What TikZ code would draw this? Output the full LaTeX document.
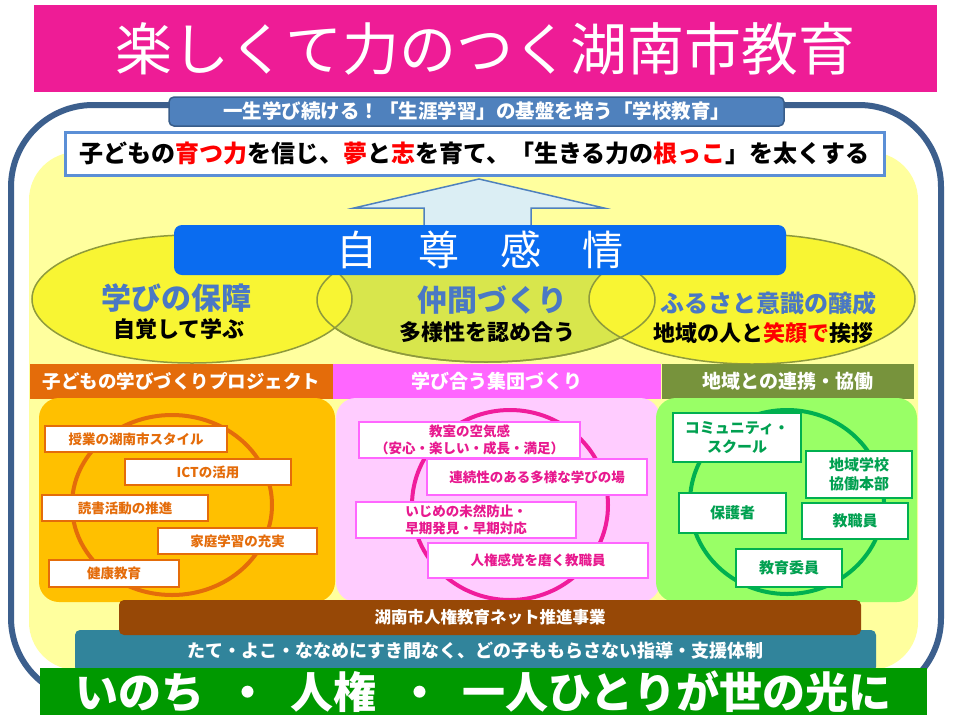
\documentclass[tikz,border=0pt]{standalone}
\usepackage{fontspec}
\setmainfont{Noto Sans CJK JP}
\usetikzlibrary{shapes.geometric, positioning}
\definecolor{titlepink}{HTML}{EE1C96}
\definecolor{framecol}{HTML}{3C5F8D}
\definecolor{bannerfill}{HTML}{4F81BD}
\definecolor{bannerline}{HTML}{385D8A}
\definecolor{stateline}{HTML}{5B8FD6}
\definecolor{paleyellow}{HTML}{FFFF9E}
\definecolor{arrowfill}{HTML}{DBEEF4}
\definecolor{selfblue}{HTML}{0A6CF0}
\definecolor{ovalyellow}{HTML}{F8F533}
\definecolor{ovalgreen}{HTML}{D8E64C}
\definecolor{ovalline}{HTML}{8E9A3C}
\definecolor{pillarblue}{HTML}{4A78C4}
\definecolor{orangehead}{HTML}{E46C0A}
\definecolor{orangepanel}{HTML}{FFC000}
\definecolor{pinkhead}{HTML}{FF66FF}
\definecolor{pinkpanel}{HTML}{FFCCFF}
\definecolor{pinkring}{HTML}{F01C9C}
\definecolor{pinktext}{HTML}{E8198F}
\definecolor{olivehead}{HTML}{77933C}
\definecolor{greenpanel}{HTML}{99FF66}
\definecolor{greenring}{HTML}{00B050}
\definecolor{greentext}{HTML}{00A050}
\definecolor{brownbar}{HTML}{974806}
\definecolor{tealbar}{HTML}{31849B}
\definecolor{bottomgreen}{HTML}{009900}
\newcommand{\fsz}[2]{\fontsize{#1}{#2}\selectfont}

\begin{document}
\begin{tikzpicture}[x=1pt, y=-1pt,
    bar/.style={rectangle, fill=#1, text=white, inner sep=0pt},
    header/.style={rectangle, fill=#1, text=white, inner sep=0pt,
                   minimum height=35, font=\bfseries\fsz{19}{19}},
    panel/.style={fill=#1, rounded corners=20},
    ring/.style={draw=#1, line width=4},
    item/.style={rectangle, draw=#1, fill=white, line width=1.6,
                 inner sep=0pt, align=center},
    orangeitem/.style={item=orangehead, text=orangehead, font=\bfseries\fsz{13.5}{17}},
    pinkitem/.style={item=pinkhead, text=pinktext, font=\bfseries\fsz{13.5}{17}},
    greenitem/.style={item=greenring, text=greentext, font=\bfseries\fsz{15}{19}},
    oval/.style={ellipse, fill=#1, draw=ovalline, line width=1.5, inner sep=0pt},
    pillar/.style={text=pillarblue, font=\bfseries\fsz{#1}{#1}},
    motto/.style={text=black, font=\bfseries\fsz{22}{22}}
]
\useasboundingbox (0,0) rectangle (961,721);
\fill[white] (0,0) rectangle (961,721);

% outer frame and pale ground
\draw[framecol, line width=6, rounded corners=82] (11,105) rectangle (941,700);
\fill[paleyellow, rounded corners=48] (29,152) rectangle (918,670);

\node[bar=bannerfill, draw=bannerline, line width=1.5, rounded corners=5,
      minimum width=615, minimum height=29, font=\bfseries\fsz{19.5}{19.5}]
      (banner) at (476.5,111.5) {一生学び続ける！「生涯学習」の基盤を培う「学校教育」};
\node[rectangle, draw=stateline, line width=3, fill=white, inner sep=0pt,
      minimum width=819, minimum height=43, font=\bfseries\fsz{24}{24}]
      (statement) at (474.5,153.5)
      {子どもの\textcolor{red}{育つ力}を信じ、\textcolor{red}{夢}と\textcolor{red}{志}を育て、「生きる力の\textcolor{red}{根っこ}」を太くする};

% arrow up to the statement
\draw[fill=arrowfill, draw=bannerfill, line width=1.5]
  (424,228) -- (424,208) -- (354,208) -- (479,179) -- (604,208)
  -- (531,208) -- (531,228) -- cycle;

% three ovals
\node[oval=ovalgreen, minimum width=338, minimum height=124] (ovalM) at (486,300) {};
\node[oval=ovalyellow, minimum width=320, minimum height=128] (ovalL) at (192,299) {};
\node[oval=ovalyellow, minimum width=326, minimum height=130] (ovalR) at (752,299) {};
\draw[ovalline, line width=1.5] (ovalM.center) ellipse [x radius=169, y radius=62];

\node[bar=selfblue, rounded corners=8, minimum width=612, minimum height=50,
      font=\fsz{41}{41}] (self) at (480,250) {自　尊　感　情};

\node[pillar=30] (learnA) at (176,298) {学びの保障};
\node[motto] (learnB) at (179,329) {自覚して学ぶ};
\node[pillar=30] (peerA) at (492,300) {仲間づくり};
\node[motto] (peerB) at (487,332) {多様性を認め合う};
\node[pillar=24] (homeA) at (768,303) {ふるさと意識の醸成};
\node[motto] (homeB) at (763,333) {地域の人と\textcolor{red}{笑顔で}挨拶};

% column headers
\node[header=orangehead, minimum width=303, font=\bfseries\fsz{18.5}{18.5}]
      (hdrA) at (181.5,381) {子どもの学びづくりプロジェクト};
\node[header=pinkhead, minimum width=328, right=0pt of hdrA] (hdrB) {学び合う集団づくり};
\node[header=olivehead, minimum width=252, right=0pt of hdrB] (hdrC) {地域との連携・協働};

% column panels
\fill[panel=orangepanel] (39,398) rectangle (335,602);
\fill[panel=pinkpanel] (336,398) rectangle (660,602);
\fill[panel=greenpanel] (656,398) rectangle (917,602);
\draw[ring=orangehead] (172,505) ellipse [x radius=100, y radius=90];
\draw[ring=pinkring] (510,505) ellipse [x radius=98, y radius=95];
\draw[ring=greenring] (787,502) ellipse [x radius=97, y radius=92];

\node[orangeitem, minimum width=182, minimum height=26] (styleA) at (136,439) {授業の湖南市スタイル};
\node[orangeitem, minimum width=166, minimum height=26] (ict) at (208,472) {ICTの活用};
\node[orangeitem, minimum width=166, minimum height=26] (reading) at (125,508) {読書活動の推進};
\node[orangeitem, minimum width=159, minimum height=26] (homework) at (237.5,541) {家庭学習の充実};
\node[orangeitem, minimum width=130, minimum height=27] (health) at (114,573.5) {健康教育};

\node[pinkitem, minimum width=221, minimum height=36] (climate) at (469.5,440)
      {教室の空気感\\（安心・楽しい・成長・満足）};
\node[pinkitem, minimum width=220, minimum height=36] (place) at (537,477) {連続性のある多様な学びの場};
\node[pinkitem, minimum width=220, minimum height=36] (bully) at (466,520)
      {いじめの未然防止・\\早期発見・早期対応};
\node[pinkitem, minimum width=220, minimum height=35] (staffA) at (538,560.5) {人権感覚を磨く教職員};

\node[greenitem, minimum width=128, minimum height=49] (school) at (737,437.5) {コミュニティ・\\スクール};
\node[greenitem, minimum width=106, minimum height=47] (office) at (859,474.5) {地域学校\\協働本部};
\node[greenitem, minimum width=107, minimum height=40] (parents) at (732.5,513) {保護者};
\node[greenitem, minimum width=106, minimum height=36] (staffB) at (855,521) {教職員};
\node[greenitem, minimum width=106, minimum height=38] (board) at (789,568) {教育委員};

% foundation bars
\node[bar=tealbar, rounded corners=5, minimum width=801, minimum height=42,
      font=\bfseries\fsz{18}{18}] (support) at (475.5,651)
      {たて・よこ・ななめにすき間なく、どの子ももらさない指導・支援体制};
\node[bar=brownbar, rounded corners=5, minimum width=742, minimum height=35,
      font=\bfseries\fsz{16.5}{16.5}] (net) at (490,617.5) {湖南市人権教育ネット推進事業};
\node[bar=bottomgreen, minimum width=887, minimum height=47,
      font=\bfseries\fsz{43}{43}] (light) at (483.5,691.5)
      {いのち\hspace{0.5em}・\hspace{0.5em}人権\hspace{0.5em}・\hspace{0.5em}一人ひとりが世の光に};

\node[bar=titlepink, minimum width=903, minimum height=87,
      font=\fsz{57}{57}] (title) at (485.5,48.5) {楽しくて力のつく湖南市教育};

\end{tikzpicture}
\end{document}
